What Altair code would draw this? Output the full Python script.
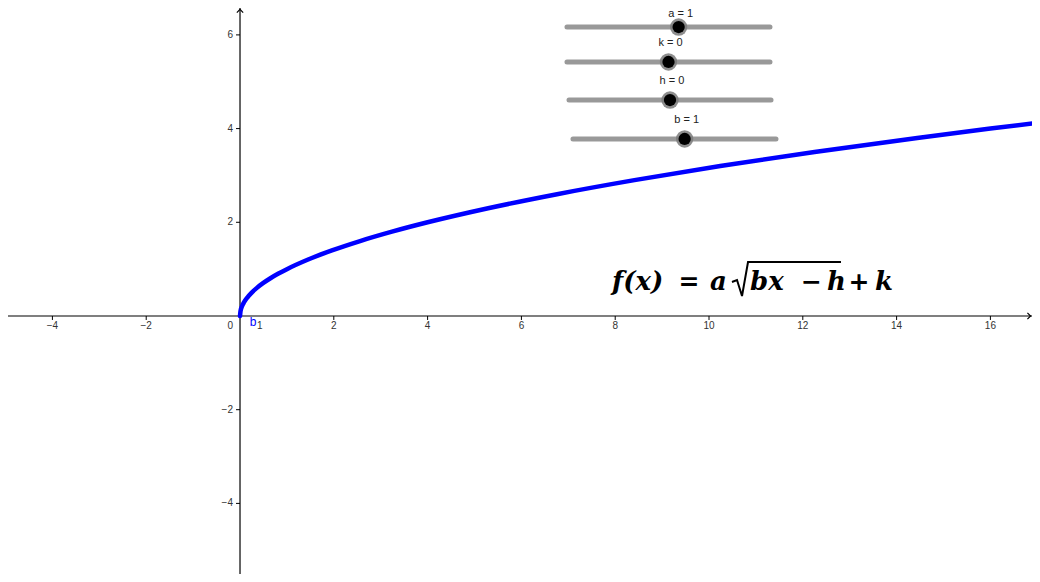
import altair as alt
import pandas as pd

# ---- coordinate window (data units) ----
X_MIN, X_MAX = -4.947, 16.887
Y_MIN, Y_MAX = -5.507, 6.574
TICK_LEN = 0.085

# ---- axis ticks ----
x_ticks = [-4, -2, 2, 4, 6, 8, 10, 12, 14, 16]
x_tick_labels = ["−4", "−2", "2", "4", "6", "8", "10", "12", "14", "16"]
y_ticks = [-4, -2, 2, 4, 6]
y_tick_labels = ["−4", "−2", "2", "4", "6"]

# ---- curve f(x) ----
curve_x = [0, 0.01, 0.04, 0.09, 0.16, 0.25, 0.36, 0.49, 0.64, 0.81, 1.0, 1.44, 1.96,
           2.56, 3.24, 4.0, 5.29, 6.76, 8.41, 10.24, 12.25, 14.44, 16.0, 17.2]
curve_y = [0, 0.1, 0.2, 0.3, 0.4, 0.5, 0.6, 0.7, 0.8, 0.9, 1.0, 1.2, 1.4,
           1.6, 1.8, 2.0, 2.3, 2.6, 2.9, 3.2, 3.5, 3.8, 4.0, 4.15]

# ---- sliders ----
slider_names = ["a", "k", "h", "b"]
slider_values = [1, 0, 0, 1]
slider_min = [-10, -10, -10, -10]
slider_max = [10, 10, 10, 10]
slider_x0 = [6.972, 6.972, 7.015, 7.100]
slider_x1 = [11.300, 11.300, 11.322, 11.428]
slider_y = [6.168, 5.422, 4.610, 3.778]
SLIDER_LABEL_RISE = 0.53

# ---- formula pieces ----
formula_text = ["f(x)", "a", "bx", "h", "k"]
formula_x = [7.932, 10.021, 10.874, 12.516, 13.539]
op_text = ["=", "−", "+"]
op_x = [9.574, 12.186, 13.198]
formula_base_y = 0.555
radical_x = [10.490, 10.597, 10.704, 10.832, 12.814]
radical_y = [0.726, 0.768, 0.427, 1.153, 1.153]

xs = alt.Scale(domain=[X_MIN, X_MAX], nice=False, zero=False)
ys = alt.Scale(domain=[Y_MIN, Y_MAX], nice=False, zero=False)


def X(field=None, datum=None):
    if datum is not None:
        return alt.X(datum=datum, type="quantitative", scale=xs, axis=None)
    return alt.X(field, type="quantitative", scale=xs, axis=None)


def Y(field=None, datum=None):
    if datum is not None:
        return alt.Y(datum=datum, type="quantitative", scale=ys, axis=None)
    return alt.Y(field, type="quantitative", scale=ys, axis=None)


one = pd.DataFrame({"_": [0]})

x_axis = alt.Chart(one).mark_rule(color="black", strokeWidth=1.2).encode(
    x=X(datum=X_MIN), x2=alt.X2(datum=X_MAX), y=Y(datum=0))
y_axis = alt.Chart(one).mark_rule(color="black", strokeWidth=1.2).encode(
    y=Y(datum=Y_MIN), y2=alt.Y2(datum=Y_MAX), x=X(datum=0))

arrow_r = alt.Chart(one).mark_point(
    shape="M-0.5,-1L0.5,0L-0.5,1", size=40, filled=False, color="black",
    strokeWidth=1.2, xOffset=-3, opacity=1).encode(x=X(datum=X_MAX), y=Y(datum=0))
arrow_t = alt.Chart(one).mark_point(
    shape="M-1,0.5L0,-0.5L1,0.5", size=40, filled=False, color="black",
    strokeWidth=1.2, yOffset=3, opacity=1).encode(x=X(datum=0), y=Y(datum=Y_MAX))

xt = pd.DataFrame({"v": x_ticks, "lab": x_tick_labels, "z": 0, "z2": -TICK_LEN})
yt = pd.DataFrame({"v": y_ticks, "lab": y_tick_labels, "z": 0, "z2": -TICK_LEN})

x_tick_marks = alt.Chart(xt).mark_rule(color="black", strokeWidth=1).encode(
    x=X("v"), y=Y("z"), y2="z2")
y_tick_marks = alt.Chart(yt).mark_rule(color="black", strokeWidth=1).encode(
    y=Y("v"), x=X("z"), x2="z2")

lab_font = dict(font="Liberation Sans", fontSize=10, color="#333333")
x_tick_text = alt.Chart(xt).mark_text(align="center", baseline="alphabetic", dy=13, **lab_font).encode(
    x=X("v"), y=Y("z"), text="lab")
y_tick_text = alt.Chart(yt).mark_text(align="right", baseline="middle", dx=-7, **lab_font).encode(
    y=Y("v"), x=X("z"), text="lab")
origin_text = alt.Chart(one).mark_text(align="right", baseline="alphabetic", dx=-7, dy=13, text="0",
                                       **lab_font).encode(x=X(datum=0), y=Y(datum=0))

curve = alt.Chart(pd.DataFrame({"x": curve_x, "y": curve_y})).mark_line(
    color="#0000ff", strokeWidth=4.5, clip=True, interpolate="monotone", strokeCap="round").encode(
    x=X("x"), y=Y("y"), order="x:Q")

b_lab = alt.Chart(one).mark_text(align="left", baseline="alphabetic", text="b", font="Liberation Sans",
                                 fontSize=12, color="#0000ff").encode(x=X(datum=0.21), y=Y(datum=-0.21))
b_sub = alt.Chart(one).mark_text(align="left", baseline="alphabetic", text="1", font="Liberation Sans",
                                 fontSize=10, color="#333333").encode(x=X(datum=0.36), y=Y(datum=-0.28))

sl = pd.DataFrame({"name": slider_names, "val": slider_values, "mn": slider_min, "mx": slider_max,
                   "x0": slider_x0, "x1": slider_x1, "y": slider_y})
sl["knob"] = sl["x0"] + (sl["val"] - sl["mn"]) / (sl["mx"] - sl["mn"]) * (sl["x1"] - sl["x0"])
sl["label"] = sl["name"] + " = " + sl["val"].astype(str)
# label top edge sits this far above the track; keep the top one inside the drawing area
sl["ly"] = (sl["y"] + SLIDER_LABEL_RISE).clip(upper=Y_MAX)

tracks = alt.Chart(sl).mark_rule(color="#999999", strokeWidth=5, strokeCap="round").encode(
    x=X("x0"), x2="x1", y=Y("y"))
knob_ring = alt.Chart(sl).mark_point(shape="circle", filled=True, size=300, color="#7a7a7a",
                                     opacity=0.85).encode(x=X("knob"), y=Y("y"))
knob = alt.Chart(sl).mark_point(shape="circle", filled=True, size=150, color="black",
                                opacity=1).encode(x=X("knob"), y=Y("y"))
slider_text = alt.Chart(sl).mark_text(align="center", baseline="top", dx=2,
                                      font="Liberation Sans", fontSize=11, color="#222222").encode(
    x=X("knob"), y=Y("ly"), text="label")

ff = pd.DataFrame({"t": formula_text, "x": formula_x, "y": formula_base_y})
fo = pd.DataFrame({"t": op_text, "x": op_x, "y": formula_base_y})
formula_vars = alt.Chart(ff).mark_text(align="left", baseline="alphabetic", font="DejaVu Serif",
                                       fontSize=26, fontWeight="bold", fontStyle="italic",
                                       color="black").encode(x=X("x"), y=Y("y"), text="t")
formula_ops = alt.Chart(fo).mark_text(align="center", baseline="alphabetic", font="DejaVu Sans",
                                      fontSize=25, fontWeight="bold", color="black").encode(
    x=X("x"), y=Y("y"), text="t")
radical = alt.Chart(pd.DataFrame({"x": radical_x, "y": radical_y, "o": range(len(radical_x))})).mark_line(
    color="black", strokeWidth=2).encode(x=X("x"), y=Y("y"), order="o:Q")

chart = alt.layer(
    x_axis, y_axis, arrow_r, arrow_t, x_tick_marks, y_tick_marks, x_tick_text, y_tick_text, origin_text,
    curve, b_lab, b_sub, tracks, knob_ring, knob, slider_text, formula_vars, formula_ops, radical
).properties(width=1024, height=566, autosize=alt.AutoSizeParams(type="none"), padding=0
).configure_view(stroke=None)

chart.save("out.html", embed_options={"renderer": "svg", "actions": False})
